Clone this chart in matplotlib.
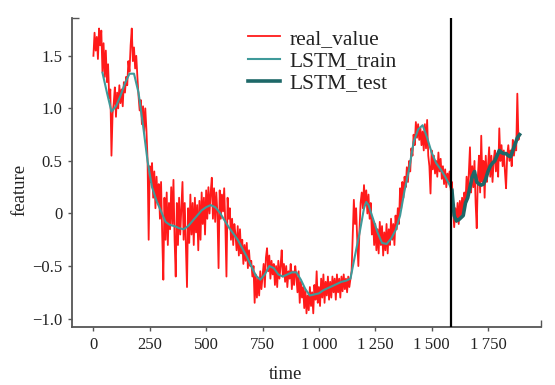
import matplotlib
matplotlib.use("Agg")
import matplotlib.pyplot as plt
from matplotlib.ticker import FixedLocator

# ---------------- data ----------------
real_time = list(range(0, 1895, 5))
real_value = [
    1.50, 1.72, 1.55, 1.68, 1.47, 1.76, 1.60, 1.74, 1.35, 1.62,
    1.30, 1.55, 1.25, 1.42, 1.10, 1.18, 0.55, 0.95, 1.05, 1.20,
    0.92, 1.15, 1.00, 1.22, 1.05, 1.18, 1.02, 1.25, 1.15, 1.30,
    1.22, 1.45, 1.35, 1.60, 1.76, 1.45, 1.58, 1.38, 1.50, 1.30,
    1.12, 0.98, 1.08, 0.85, 1.02, 0.78, 1.00, 0.80, 0.52, -0.25,
    0.45, 0.30, 0.48, 0.15, 0.40, 0.05, 0.35, 0.10, 0.28, -0.05,
    0.30, -0.20, -0.63, 0.15, -0.25, 0.20, -0.30, 0.10, -0.15, 0.25,
    -0.10, 0.32, -0.25, -0.60, 0.10, -0.30, 0.15, -0.20, 0.05, 0.30,
    -0.25, 0.10, -0.30, -0.70, 0.05, -0.28, 0.18, -0.20, 0.10, -0.30,
    0.15, -0.18, 0.08, -0.35, 0.12, -0.25, 0.20, -0.10, 0.15, -0.20,
    0.22, -0.05, 0.25, 0.00, 0.20, 0.34, -0.05, 0.24, -0.08, 0.20,
    0.00, -0.52, 0.22, -0.05, 0.18, 0.02, 0.24, -0.10, -0.60, 0.15,
    -0.05, 0.05, -0.25, -0.05, -0.30, -0.10, -0.20, -0.35, -0.12, -0.40,
    -0.15, -0.38, -0.25, -0.48, -0.30, -0.45, -0.28, -0.52, -0.35, -0.50,
    -0.45, -0.60, -0.50, -0.85, -0.58, -0.80, -0.62, -0.78, -0.55, -0.72,
    -0.60, -0.48, -0.70, -0.42, -0.33, -0.55, -0.40, -0.62, -0.45, -0.58,
    -0.48, -0.68, -0.50, -0.70, -0.45, -0.62, -0.50, -0.35, -0.60, -0.48,
    -0.65, -0.50, -0.70, -0.55, -0.62, -0.48, -0.72, -0.55, -0.68, -0.50,
    -0.60, -0.75, -0.55, -0.85, -0.65, -0.80, -0.70, -0.90, -0.72, -0.95,
    -0.78, -0.92, -0.70, -0.88, -0.75, -0.95, -0.68, -0.82, -0.55, -0.85,
    -0.70, -0.88, -0.62, -0.80, -0.58, -0.85, -0.65, -0.78, -0.60, -0.82,
    -0.65, -0.80, -0.60, -0.75, -0.62, -0.82, -0.58, -0.75, -0.62, -0.80,
    -0.60, -0.74, -0.58, -0.72, -0.62, -0.75, -0.60, -0.70, -0.62, -0.55,
    -0.20, 0.13, -0.10, 0.05, -0.25, -0.50, -0.15, 0.10, 0.20, 0.05,
    0.27, 0.08, 0.22, 0.00, 0.18, -0.05, 0.10, -0.20, -0.05, -0.30,
    -0.10, -0.35, -0.15, -0.38, -0.08, -0.30, -0.12, -0.40, -0.18, -0.35,
    -0.10, -0.38, -0.15, -0.30, -0.05, -0.25, -0.10, -0.30, -0.02, -0.15,
    0.05, -0.10, 0.24, 0.05, 0.30, 0.15, 0.35, 0.25, 0.44, 0.30,
    0.50, 0.40, 0.62, 0.55, 0.75, 0.65, 0.87, 0.72, 0.85, 0.70,
    0.82, 0.65, 0.78, 0.60, 0.85, 0.62, 0.89, 0.55, 0.45, 0.19,
    0.60, 0.42, 0.55, 0.38, 0.50, 0.35, 0.58, 0.40, 0.52, 0.33,
    0.45, 0.28, 0.42, 0.25, 0.38, 0.30, 0.40, 0.22, 0.30, 0.05,
    -0.13, 0.05, -0.08, 0.10, -0.10, 0.12, -0.02, 0.15, 0.00, 0.20,
    0.10, 0.35, 0.15, 0.40, 0.63, 0.20, 0.45, 0.25, 0.50, 0.10,
    -0.14, 0.35, 0.55, 0.20, 0.74, 0.30, 0.50, 0.15, 0.55, 0.30,
    0.45, 0.63, 0.35, 0.55, 0.30, 0.50, 0.60, 0.40, 0.55, 0.35,
    0.81, 0.50, 0.65, 0.45, 0.60, 0.40, 0.24, 0.55, 0.65, 0.50,
    0.60, 0.45, 0.70, 0.55, 0.65, 0.60, 1.14, 0.70, 0.75,
]

train_time = [40, 60, 80, 100, 120, 140, 160, 180, 200, 220,
              240, 260, 280, 300, 320, 340, 360, 380, 400, 420,
              440, 460, 480, 500, 520, 540, 560, 580, 600, 620,
              640, 660, 680, 700, 720, 740, 760, 780, 800, 820,
              840, 860, 880, 900, 920, 940, 960, 980, 1000, 1020,
              1040, 1060, 1080, 1100, 1120, 1140, 1160, 1180, 1200, 1210,
              1220, 1240, 1260, 1280, 1300, 1320, 1340, 1360, 1380, 1400,
              1420, 1440, 1460, 1480, 1500, 1520, 1540, 1560, 1580, 1590]
train_value = [1.34, 1.15, 0.97, 1.02, 1.12, 1.24, 1.33, 1.33, 1.15, 0.84,
               0.50, 0.25, 0.12, 0.02, -0.08, -0.11, -0.12, -0.14, -0.15, -0.12,
               -0.07, -0.02, 0.03, 0.06, 0.08, 0.06, 0.01, -0.06, -0.13, -0.19,
               -0.25, -0.33, -0.41, -0.50, -0.59, -0.63, -0.58, -0.50, -0.52, -0.58,
               -0.60, -0.58, -0.56, -0.56, -0.63, -0.72, -0.78, -0.77, -0.76, -0.73,
               -0.71, -0.69, -0.67, -0.65, -0.64, -0.62, -0.40, -0.19, 0.05, 0.11,
               0.08, -0.05, -0.18, -0.28, -0.29, -0.24, -0.16, -0.02, 0.22, 0.42,
               0.68, 0.80, 0.84, 0.72, 0.58, 0.48, 0.42, 0.35, 0.27, 0.22]

test_time = [1590, 1600, 1610, 1620, 1630, 1640, 1650, 1660, 1670, 1680,
             1690, 1700, 1710, 1720, 1730, 1740, 1750, 1760, 1770, 1780,
             1790, 1800, 1810, 1820, 1830, 1840, 1850, 1860, 1870, 1880, 1890]
test_value = [0.22, -0.02, -0.07, -0.06, -0.04, -0.02, 0.10, 0.15, 0.25, 0.35,
              0.40, 0.30, 0.28, 0.27, 0.28, 0.33, 0.40, 0.45, 0.48, 0.50,
              0.55, 0.60, 0.58, 0.57, 0.57, 0.55, 0.54, 0.60, 0.66, 0.72, 0.75]

split_time = 1588

x_ticks = [0, 250, 500, 750, 1000, 1250, 1500, 1750]
x_tick_labels = ["0", "250", "500", "750", "1\u2009000", "1\u2009250", "1\u2009500", "1\u2009750"]
y_ticks = [-1.0, -0.5, 0, 0.5, 1.0, 1.5]
y_tick_labels = ["\u22121.0", "\u22120.5", "0", "0.5", "1.0", "1.5"]

# ---------------- figure ----------------
plt.rcParams['font.family'] = ['Liberation Serif', 'DejaVu Serif']

fig = plt.figure(figsize=(5.55, 3.85), dpi=100)
ax = fig.add_axes([72/555, 1-327/385, (541-72)/555, (327-18)/385])

ax.plot(real_time, real_value, color='#ff1a1a', lw=1.3, label='real_value', zorder=2)
ax.plot(train_time, train_value, color='#3f9a9a', lw=1.5, label='LSTM_train', zorder=3)
ax.plot(test_time, test_value, color='#1d6868', lw=2.6, label='LSTM_test', zorder=3)
ax.axvline(split_time, color='black', lw=1.6, zorder=4)

ax.set_xlim(-95, 1985)
ax.set_ylim(-1.08, 1.86)

for s in ['top', 'right']:
    ax.spines[s].set_visible(False)
for s in ['left', 'bottom']:
    ax.spines[s].set_color('#555555')
    ax.spines[s].set_linewidth(1.3)

ax.set_xticks(x_ticks)
ax.set_xticklabels(x_tick_labels)
ax.set_yticks(y_ticks)
ax.set_yticklabels(y_tick_labels)
ax.tick_params(axis='both', which='major', direction='out', length=3, width=1,
               color='#555555', labelsize=12, labelcolor='#222222', pad=4)
ax.xaxis.set_minor_locator(FixedLocator([1985]))
ax.yaxis.set_minor_locator(FixedLocator([1.86]))
ax.tick_params(axis='both', which='minor', direction='in', length=5, width=1, color='#555555')

ax.set_xlabel('time', fontsize=13.5, color='#222222')
ax.xaxis.set_label_coords(0.456, -0.125)
ax.set_ylabel('feature', fontsize=13.5, color='#222222')
ax.yaxis.set_label_coords(-0.092, 0.443)

leg = ax.legend(loc='upper left', bbox_to_anchor=(0.353, 1.0), frameon=False,
                fontsize=15.5, handlelength=1.45, handletextpad=0.45,
                labelspacing=0.1, borderaxespad=0.1)
for t in leg.get_texts():
    t.set_color('#222222')

fig.savefig('out.png', dpi=100)
